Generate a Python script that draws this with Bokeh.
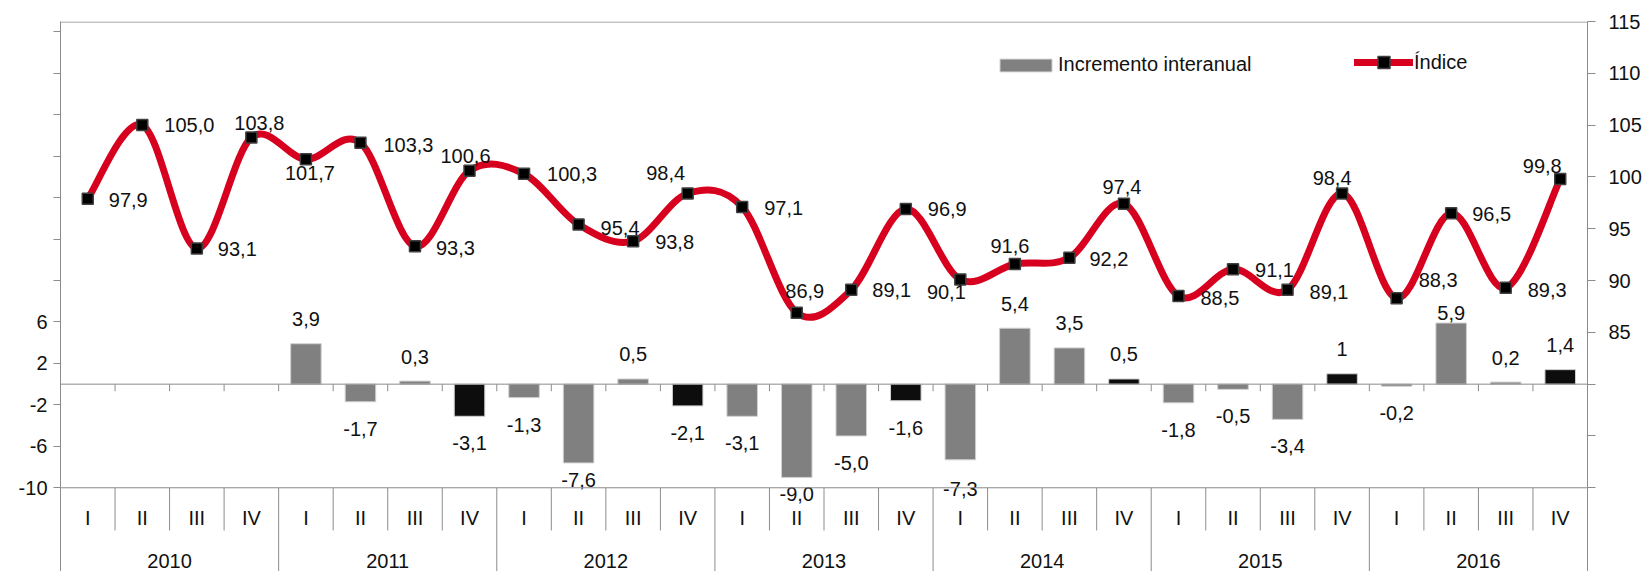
import math
from bokeh.plotting import figure
from bokeh.models import (ColumnDataSource, Range1d, LinearAxis, FixedTicker, Span,
                          Legend, LegendItem, Grid)
from bokeh.embed import file_html
from bokeh.resources import INLINE
from bokeh.core.properties import value

# ---------------- data ----------------
years = ["2010", "2011", "2012", "2013", "2014", "2015", "2016"]
quarters = ["I", "II", "III", "IV"]
incremento = [None, None, None, None,
              3.9, -1.7, 0.3, -3.1,
              -1.3, -7.6, 0.5, -2.1,
              -3.1, -9.0, -5.0, -1.6,
              -7.3, 5.4, 3.5, 0.5,
              -1.8, -0.5, -3.4, 1,
              -0.2, 5.9, 0.2, 1.4]
indice = [97.9, 105.0, 93.1, 103.8,
          101.7, 103.3, 93.3, 100.6,
          100.3, 95.4, 93.8, 98.4,
          97.1, 86.9, 89.1, 96.9,
          90.1, 91.6, 92.2, 97.4,
          88.5, 91.1, 89.1, 98.4,
          88.3, 96.5, 89.3, 99.8]
left_ticks = [-10, -6, -2, 2, 6, 10, 14, 18, 22, 26, 30, 34]
left_labelled = [-10, -6, -2, 2, 6]
right_ticks = [70, 75, 80, 85, 90, 95, 100, 105, 110, 115]
right_labelled = [85, 90, 95, 100, 105, 110, 115]

# ---------------- style ----------------
FONT = "Liberation Sans"
FS = "20px"
TXT = "#111111"
GRID = "#8C8C8C"
RED = "#D7001E"
GRAY = "#808080"
BLACK = "#0D0D0D"

# label placement for the index labels: (align, dx px, dy px)
R = "left"
C = "center"
idx_place = [(R, 21, 1), (R, 22, 0), (R, 21, 1), (C, 8, -15),
             (C, 4, 14), (R, 23, 2), (R, 21, 2), (C, -4, -15),
             (R, 23, 0), (R, 22, 3), (R, 22, 1), (C, -22, -21),
             (R, 22, 1), (C, 8, -22), (R, 21, 0), (R, 22, 0),
             (C, -14, 12), (C, -5, -18), (R, 20, 1), (C, -2, -17),
             (R, 22, 2), (R, 22, 1), (R, 22, 2), (C, -10, -16),
             (R, 22, -18), (R, 21, 1), (R, 22, 2), (C, -18, -13)]
# bar label distance from the bar end (px); a few labels were nudged in the original
bar_pos_dy = -24.5
bar_neg_dy = 27
bar_nudge = {9: 17, 13: 17, 16: 29, 25: -10.5}

n = len(indice)
xs = [i + 0.5 for i in range(n)]
quarter_of = [quarters[i % 4] for i in range(n)]
year_of = [years[i // 4] for i in range(n)]


def fmt(v):
    if isinstance(v, int):
        return str(v)
    return f"{v:.1f}".replace(".", ",")


Y_BOTTOM = -18.08
Y_TOP = 35.0
OFF = 80.0  # right axis = left axis + 80

p = figure(width=1644, height=571, output_backend="svg", toolbar_location=None,
           x_range=Range1d(0, n), y_range=Range1d(Y_BOTTOM, Y_TOP),
           x_axis_location=None, y_axis_location=None,
           min_border_left=60, min_border_right=55, min_border_top=21, min_border_bottom=0)
p.extra_y_ranges = {"idx": Range1d(Y_BOTTOM + OFF, Y_TOP + OFF)}
p.outline_line_color = None
p.background_fill_color = "white"
p.border_fill_color = "white"
for r in list(p.center):
    if isinstance(r, Grid):
        r.visible = False
        r.grid_line_color = None

# axes
lax = LinearAxis(ticker=FixedTicker(ticks=left_ticks),
                 major_label_overrides={t: (str(t) if t in left_labelled else "") for t in left_ticks})
rax = LinearAxis(y_range_name="idx", ticker=FixedTicker(ticks=right_ticks),
                 major_label_overrides={t: (str(t) if t in right_labelled else "") for t in right_ticks})
for ax, standoff, tout in ((lax, 6, 7), (rax, 13, 8)):
    ax.axis_line_color = GRID
    ax.major_tick_line_color = GRID
    ax.minor_tick_line_color = None
    ax.major_tick_out = tout
    ax.major_tick_in = 0
    ax.major_label_standoff = standoff
    ax.major_label_text_font = FONT
    ax.major_label_text_font_size = FS
    ax.major_label_text_color = TXT
p.add_layout(lax, "left")
p.add_layout(rax, "right")

# frame lines
for loc in (0, -10, Y_TOP - 0.05):
    p.add_layout(Span(location=loc, dimension="width", line_color=GRID, line_width=1))

# category table
y_q_label = -12.87
y_q_sep = -14.12
y_year_label = -17.11
bounds = list(range(1, n))
p.segment(x0=bounds, y0=[0] * len(bounds), x1=bounds, y1=[-0.68] * len(bounds),
          line_color=GRID, line_width=1)
qb = [b for b in bounds if b % 4 != 0]
yb = [b for b in bounds if b % 4 == 0]
p.segment(x0=qb, y0=[-10] * len(qb), x1=qb, y1=[y_q_sep] * len(qb), line_color=GRID, line_width=1)
p.segment(x0=yb, y0=[-10] * len(yb), x1=yb, y1=[Y_BOTTOM] * len(yb), line_color=GRID, line_width=1)
p.text(x=xs, y=[y_q_label] * n, text=quarter_of, text_align="center", text_baseline="middle",
       text_font=value(FONT), text_font_size=FS, text_color=TXT)
p.text(x=[4 * k + 2 for k in range(len(years))], y=[y_year_label] * len(years), text=years,
       text_align="center", text_baseline="middle",
       text_font=value(FONT), text_font_size=FS, text_color=TXT)

# bars
bar_top = [float("nan") if v is None else float(v) for v in incremento]
bar_color = [BLACK if (q == "IV" and y != years[0]) else GRAY for q, y in zip(quarter_of, year_of)]
bsrc = ColumnDataSource(dict(x=xs, top=bar_top, color=bar_color))
bars = p.vbar(x="x", top="top", bottom=0, width=0.56, source=bsrc, fill_color="color",
              line_color="#D0D0D0", line_width=1)

bl_x, bl_y, bl_t, bl_dy = [], [], [], []
for i, v in enumerate(incremento):
    if v is None:
        continue
    bl_x.append(xs[i])
    bl_y.append(float(v))
    bl_t.append(fmt(v))
    d = bar_pos_dy if v >= 0 else bar_neg_dy
    bl_dy.append(bar_nudge.get(i, d))
p.text(x=bl_x, y=bl_y, text=bl_t, y_offset=bl_dy, text_align="center", text_baseline="middle",
       text_font=value(FONT), text_font_size=FS, text_color=TXT)

# smoothed index line (Catmull-Rom style bezier through the points)
pts = list(zip(xs, indice))


def pt(i):
    return pts[max(0, min(n - 1, i))]


bz = dict(x0=[], y0=[], x1=[], y1=[], cx0=[], cy0=[], cx1=[], cy1=[])
for i in range(n - 1):
    p0, p1, p2, p3 = pt(i - 1), pt(i), pt(i + 1), pt(i + 2)
    bz["x0"].append(p1[0]); bz["y0"].append(p1[1])
    bz["x1"].append(p2[0]); bz["y1"].append(p2[1])
    bz["cx0"].append(p1[0] + (p2[0] - p0[0]) / 6.0)
    bz["cy0"].append(p1[1] + (p2[1] - p0[1]) / 6.0)
    bz["cx1"].append(p2[0] - (p3[0] - p1[0]) / 6.0)
    bz["cy1"].append(p2[1] - (p3[1] - p1[1]) / 6.0)
line = p.bezier(x0="x0", y0="y0", x1="x1", y1="y1", cx0="cx0", cy0="cy0", cx1="cx1", cy1="cy1",
                source=ColumnDataSource(bz), line_color=RED, line_width=7, line_cap="round",
                y_range_name="idx")
marks = p.scatter(x=xs, y=indice, marker="square", size=11, fill_color="black",
                  line_color="#404040", line_width=1.5, y_range_name="idx")

for align in (R, C):
    sel = [i for i in range(n) if idx_place[i][0] == align]
    p.text(x=[xs[i] for i in sel], y=[indice[i] for i in sel], text=[fmt(indice[i]) for i in sel],
           x_offset=[idx_place[i][1] for i in sel], y_offset=[idx_place[i][2] for i in sel],
           text_align=align, text_baseline="middle", y_range_name="idx",
           text_font=value(FONT), text_font_size=FS, text_color=TXT)

# legends
leg1 = Legend(items=[LegendItem(label="Incremento interanual", renderers=[bars], index=4)],
              location=(933, 495), orientation="horizontal", glyph_width=65, glyph_height=16,
              label_standoff=0, padding=0, margin=0, border_line_alpha=0,
              background_fill_alpha=0, label_text_font=FONT, label_text_font_size=FS,
              label_text_color=TXT)
leg2 = Legend(items=[LegendItem(label="Índice", renderers=[line, marks])],
              location=(1294, 494), orientation="horizontal", glyph_width=59, glyph_height=30,
              label_standoff=1, padding=0, margin=0, border_line_alpha=0,
              background_fill_alpha=0, label_text_font=FONT, label_text_font_size=FS,
              label_text_color=TXT)
p.add_layout(leg1, "center")
p.add_layout(leg2, "center")

open("out.html", "w").write(file_html(p, INLINE))
